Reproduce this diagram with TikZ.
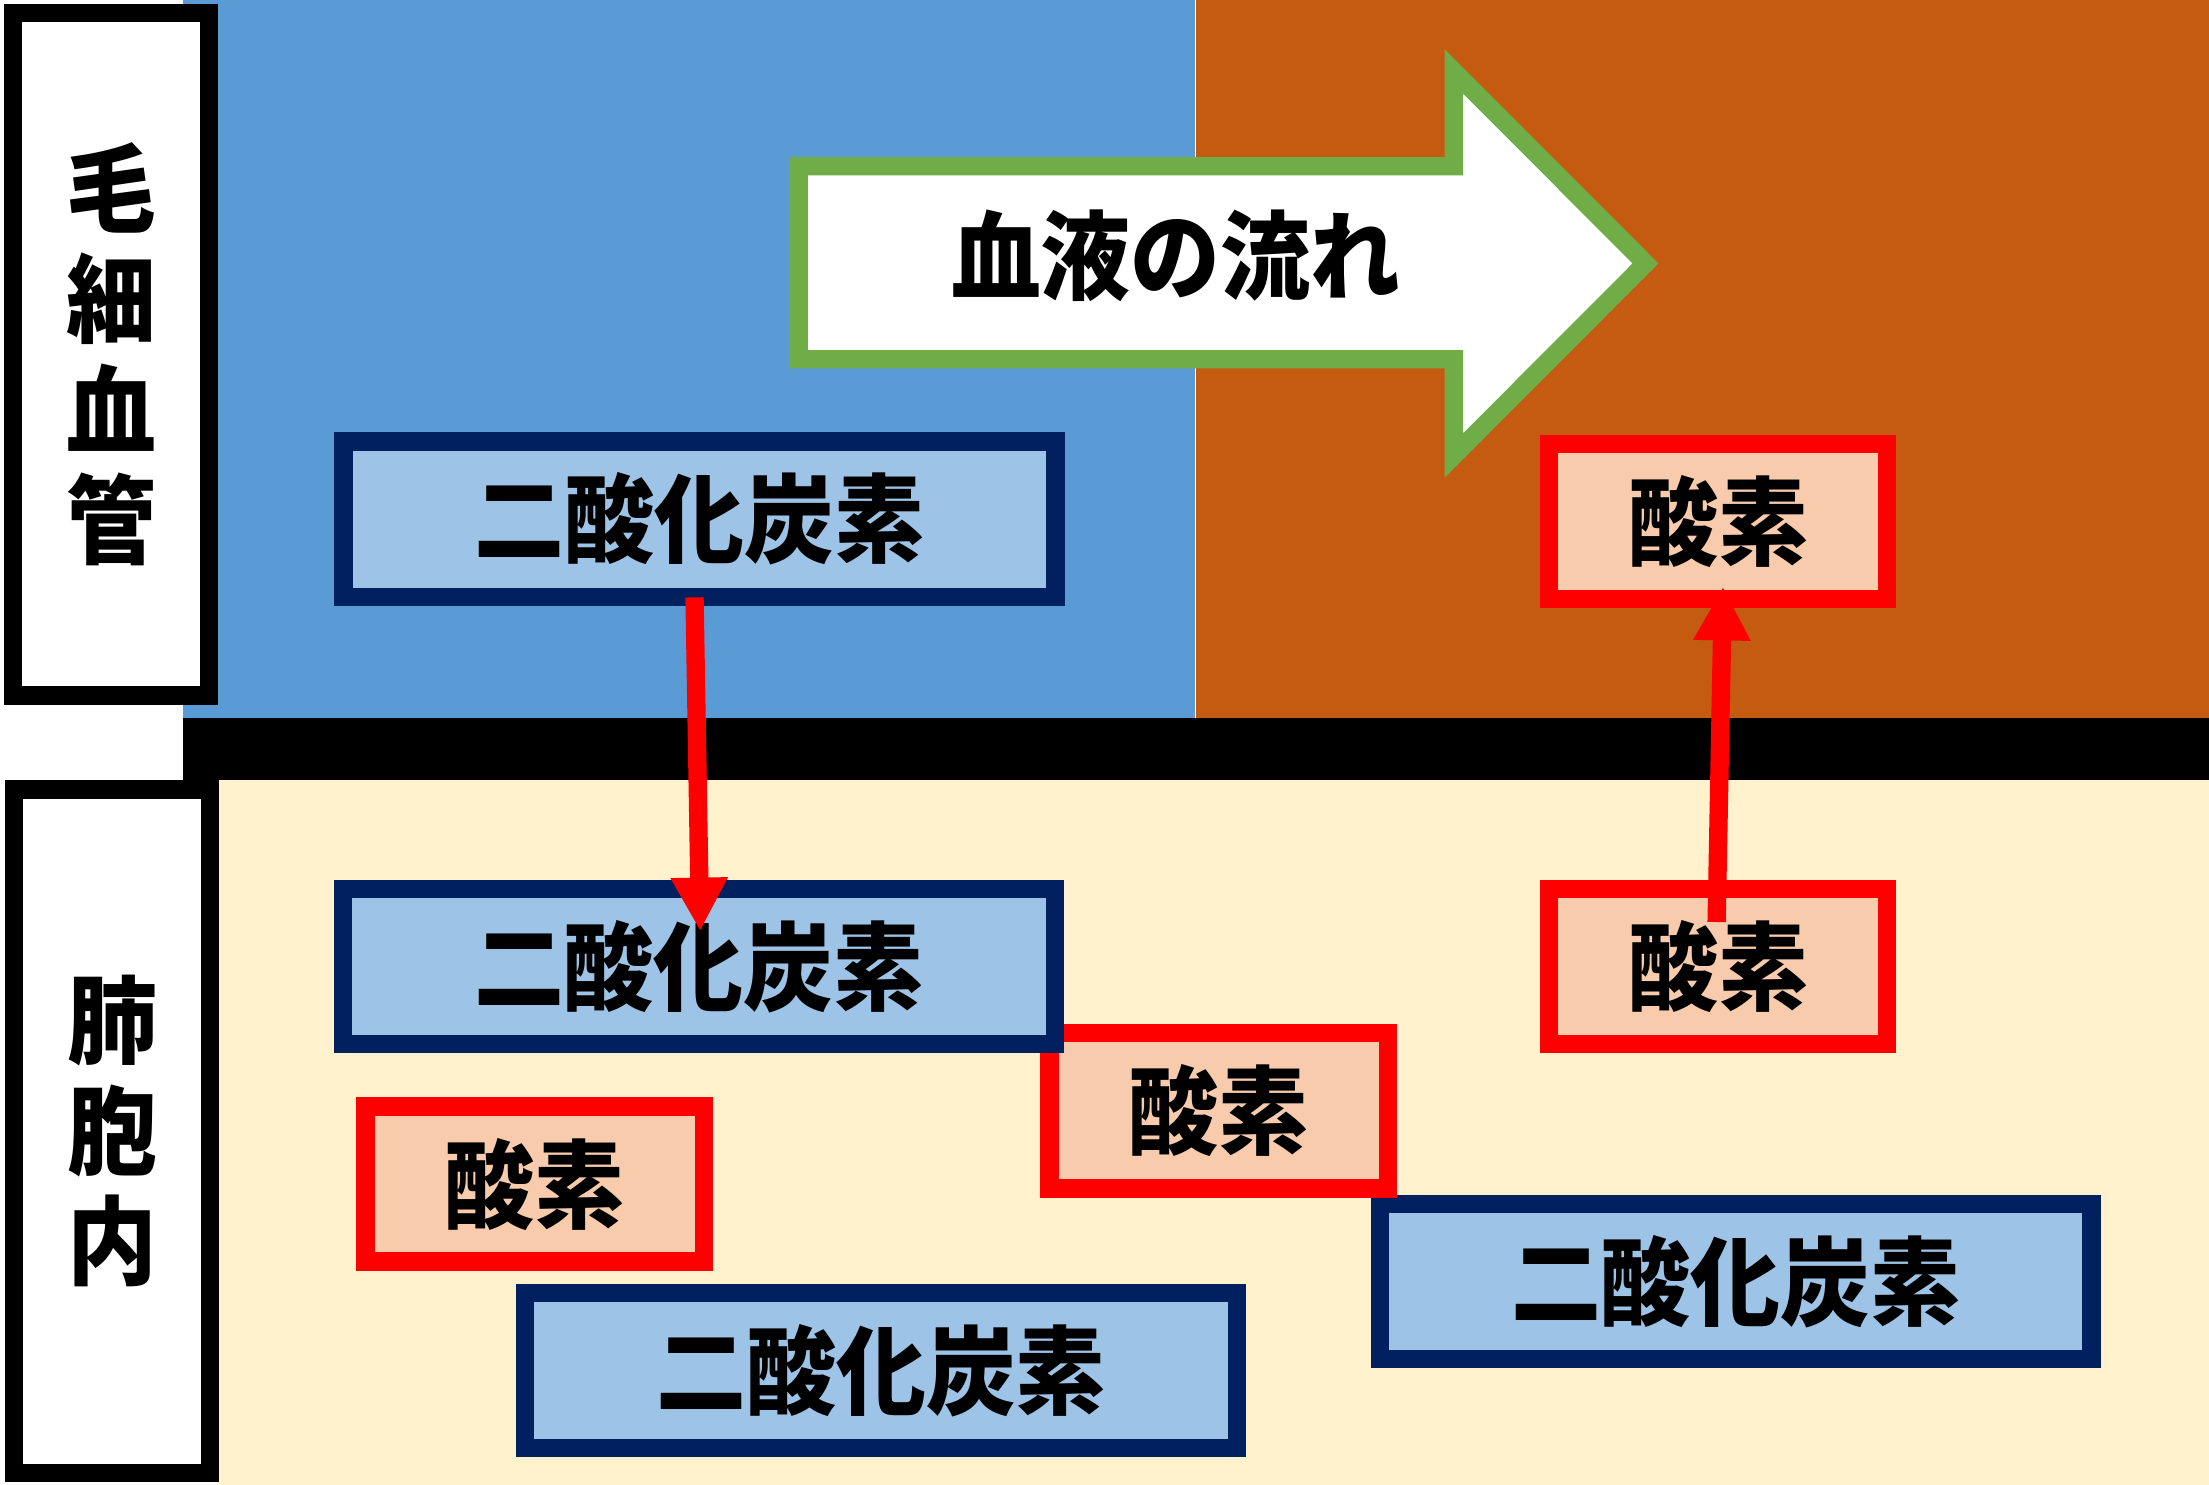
\documentclass[tikz,border=0pt]{standalone}
\usepackage{fontspec}
\setmainfont{Noto Sans CJK JP}[FakeStretch=0.93]
\usepackage{xcolor}
\usepackage{tikz}
\usetikzlibrary{arrows.meta, calc}

\definecolor{bloodblue}{HTML}{5B9BD5}
\definecolor{bloodred}{HTML}{C55A11}
\definecolor{alveolar}{HTML}{FFF2CC}
\definecolor{navy}{HTML}{002060}
\definecolor{cotwofill}{HTML}{9DC3E6}
\definecolor{otwofill}{HTML}{F8CBAD}
\definecolor{flowgreen}{HTML}{70AD47}

\begin{document}
\begin{tikzpicture}[x=0.01cm, y=-0.01cm,
	jp/.style={font={\fontsize{19.5pt}{22.3pt}\selectfont\bfseries}},
	sidebox/.style={jp, draw=black, fill=white, line width=0.13cm, minimum width=1.39cm, inner sep=0, align=center},
	cotwo/.style={jp, draw=navy, fill=cotwofill, line width=0.13cm, minimum width=5.05cm, minimum height=1.10cm, inner sep=0},
	otwo/.style={jp, draw=red, fill=otwofill, line width=0.13cm, minimum width=2.40cm, minimum height=1.10cm, inner sep=0},
	gasflow/.style={red, line width=0.13cm, -{Triangle[length=0.38cm, width=0.38cm]}}
]

\useasboundingbox (0,0) rectangle (1568,1054);

\fill[white]     (0,0)     rectangle (1568,1054);
\fill[bloodblue] (130,0)   rectangle (848,510);
\fill[bloodred]  (849,0)   rectangle (1568,510);
\fill[black]     (130,510) rectangle (1568,554);
\fill[alveolar]  (155,554) rectangle (1568,1054);

\node[sidebox, minimum height=4.84cm] (capillary) at (79,251.5) {毛\\細\\血\\管};
\node[sidebox, minimum height=4.85cm] (alveolus)  at (79.5,803) {肺\\胞\\内};

\draw[line width=0.13cm, draw=flowgreen, fill=white]
	(567,118) -- (1032,118) -- (1032,50.7) -- (1168,187) -- (1032,323.3) -- (1032,255) -- (567,255) -- cycle;
\node[jp] (flow) at (834.5,181.5) {血液の流れ};

\node[otwo]  (o2a)  at (1219.5,370)   {酸素};
\node[otwo]  (o2b)  at (1219.5,686)   {酸素};
\node[otwo]  (o2d)  at (379.5,840.5)  {酸素};

\node[cotwo] (co2a) at (496.5,368.5)  {二酸化炭素};
\node[cotwo] (co2d) at (625.5,973)    {二酸化炭素};
\node[cotwo] (co2c) at (1232,909.5)   {二酸化炭素};
\node[otwo]  (o2c)  at (865,788.5)    {酸素};
\node[cotwo] (co2b) at (496,686)      {二酸化炭素};

\draw[gasflow] ($(co2a.south)+(-3.5,-6)$) -- ($(co2b.north)+(1,36.5)$);
\draw[gasflow] ($(o2b.north)+(-1,30)$) -- ($(o2a.south)+(3.5,-15)$);

\end{tikzpicture}
\end{document}
